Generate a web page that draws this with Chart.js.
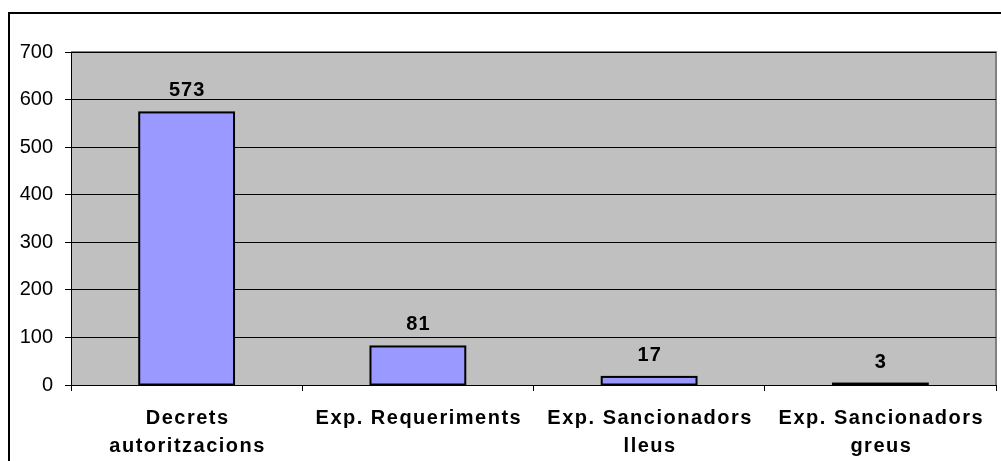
<!DOCTYPE html>
<html>
<head>
<meta charset="utf-8">
<script src="https://cdn.jsdelivr.net/npm/chart.js@4/dist/chart.umd.min.js"></script>
<style>
  html, body { margin: 0; padding: 0; background: #fff; }
  canvas { display: block; }
</style>
</head>
<body>
<canvas id="chart" width="1001" height="461"></canvas>
<script>
const categories = [
    ['Decrets', 'autoritzacions'],
    ['Exp. Requeriments'],
    ['Exp. Sancionadors', 'lleus'],
    ['Exp. Sancionadors', 'greus']
];
const values = [573, 81, 17, 3];
const yTicks = [0, 100, 200, 300, 400, 500, 600, 700];

const FONT = 'Liberation Sans, Arial, sans-serif';

// gray plot background, gray top/right edges and the outer frame
const framePlugin = {
    id: 'frame',
    beforeDraw(chart) {
        const { ctx, chartArea: a } = chart;
        ctx.save();
        ctx.fillStyle = '#fff';
        ctx.fillRect(0, 0, chart.width, chart.height);
        ctx.fillStyle = '#c0c0c0';
        ctx.fillRect(a.left, a.top, a.right - a.left, a.bottom - a.top);
        ctx.strokeStyle = '#808080';
        ctx.lineWidth = 2;
        ctx.beginPath();
        ctx.moveTo(a.left, a.top);
        ctx.lineTo(a.right, a.top);
        ctx.lineTo(a.right, a.bottom);
        ctx.stroke();
        ctx.strokeStyle = '#000';
        ctx.lineWidth = 2;
        ctx.strokeRect(9, 13, chart.width + 20, chart.height + 20);
        ctx.restore();
    }
};

// bar outlines, value labels and the spaced-out category labels
const barText = {
    id: 'barText',
    afterDatasetsDraw(chart) {
        const { ctx } = chart;
        const meta = chart.getDatasetMeta(0);
        ctx.save();
        ctx.strokeStyle = '#000';
        ctx.lineWidth = 2;
        meta.data.forEach(bar => {
            ctx.strokeRect(bar.x - bar.width / 2, bar.y, bar.width, bar.base - bar.y);
        });
        ctx.fillStyle = '#000';
        ctx.textAlign = 'center';
        ctx.textBaseline = 'alphabetic';
        ctx.font = 'bold 20px ' + FONT;
        ctx.letterSpacing = '1px';
        meta.data.forEach((bar, i) => {
            ctx.fillText(String(values[i]), bar.x + 0.5, bar.y - 16);
        });
        const xs = chart.scales.x;
        ctx.font = 'bold 20px ' + FONT;
        ctx.letterSpacing = '1.5px';
        ctx.textBaseline = 'middle';
        categories.forEach((lines, i) => {
            const x = xs.getPixelForTick(i) + 1;
            lines.forEach((line, j) => {
                ctx.fillText(line, x, xs.top + 33 + j * 28);
            });
        });
        ctx.restore();
    }
};

new Chart(document.getElementById('chart'), {
    type: 'bar',
    data: {
        labels: categories,
        datasets: [{
            data: values,
            backgroundColor: '#9999ff',
            borderWidth: 0,
            barPercentage: 0.41,
            categoryPercentage: 1
        }]
    },
    options: {
        responsive: false,
        animation: false,
        layout: { padding: { top: 52, right: 5, left: 0, bottom: 0 } },
        plugins: {
            legend: { display: false },
            tooltip: { enabled: false }
        },
        scales: {
            x: {
                grid: {
                    display: true,
                    offset: true,
                    drawOnChartArea: false,
                    drawTicks: true,
                    tickLength: 6,
                    color: '#000'
                },
                border: { display: true, color: '#000', width: 1 },
                ticks: { display: false },
                afterFit(scale) { scale.height = 76; }
            },
            y: {
                min: 0,
                max: 700,
                afterBuildTicks(scale) { scale.ticks = yTicks.map(v => ({ value: v })); },
                grid: {
                    color: '#000',
                    lineWidth: 1,
                    drawTicks: true,
                    tickLength: 6
                },
                border: { display: true, color: '#000', width: 1 },
                ticks: {
                    color: '#000',
                    padding: 12,
                    font: { family: FONT, size: 20 }
                },
                afterFit(scale) { scale.width = 71; }
            }
        }
    },
    plugins: [framePlugin, barText]
});
</script>
</body>
</html>
